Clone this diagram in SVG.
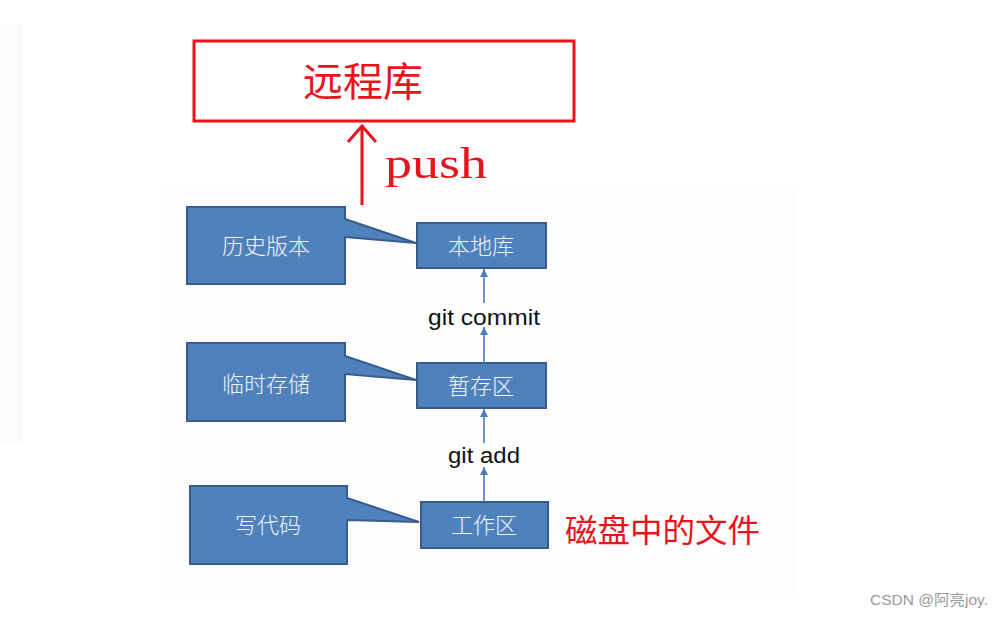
<svg xmlns="http://www.w3.org/2000/svg" width="1002" height="617" viewBox="0 0 1002 617">
<style>
.callout{fill:#4f81bd;stroke:#385d8a;stroke-width:2}
.box{fill:#4f81bd;stroke:#385d8a;stroke-width:2}
.wt{fill:#f4f4f4;font-family:"Noto Sans CJK SC",sans-serif;font-size:22px;font-weight:300;text-anchor:middle}
.red{fill:#e8141c;font-family:"Liberation Serif","Noto Sans CJK SC",serif}
.lbl{fill:#111;font-family:"Liberation Sans",Arial,sans-serif;font-size:22px;text-anchor:middle}
.conn{stroke:#4a7ebb;stroke-width:1.6;fill:none}
</style>
<defs>
<marker id="ah" viewBox="0 0 10 10" refX="10" refY="5" markerWidth="8" markerHeight="8" markerUnits="userSpaceOnUse" orient="auto">
<path d="M0,0 L10,5 L0,10 Z" fill="#4a7ebb"/>
</marker>
</defs>
<rect width="1002" height="617" fill="#ffffff"/>
<rect x="0" y="25" width="22" height="420" fill="#fbfbfb"/>
<rect x="160" y="185" width="635" height="410" fill="#fdfdfd"/>

<g id="remote">
<rect x="194" y="41" width="380" height="80" fill="#ffffff" stroke="#e8141c" stroke-width="3"/>
<text class="red" x="363" y="96" font-size="40" text-anchor="middle">远程库</text>
</g>

<g id="push">
<path d="M362,205 V127 M348,142 L362,126 L376,142" stroke="#e8141c" stroke-width="3" fill="none"/>
<text class="red" x="385" y="178" font-size="44" textLength="102" lengthAdjust="spacingAndGlyphs">push</text>
</g>

<g id="callout-history">
<path class="callout" d="M187,207 H345 V219 L416,243 L345,237 V284 H187 Z"/>
<text class="wt" x="266" y="254">历史版本</text>
</g>
<g id="local-repo">
<rect class="box" x="417" y="223" width="129" height="45"/>
<text class="wt" x="481" y="254">本地库</text>
</g>

<g id="callout-temp">
<path class="callout" d="M187,343 H345 V356 L416,380 L345,374 V421 H187 Z"/>
<text class="wt" x="266" y="392">临时存储</text>
</g>
<g id="staging">
<rect class="box" x="417" y="363" width="129" height="45"/>
<text class="wt" x="481" y="394">暂存区</text>
</g>

<g id="callout-code">
<path class="callout" d="M190,486 H347 V498 L419,522 L347,520 V564 H190 Z"/>
<text class="wt" x="268" y="533">写代码</text>
</g>
<g id="workspace">
<rect class="box" x="421" y="502" width="127" height="46"/>
<text class="wt" x="484" y="533">工作区</text>
</g>

<g id="disk-label">
<text class="red" x="565" y="542" font-size="32" textLength="195" lengthAdjust="spacingAndGlyphs">磁盘中的文件</text>
</g>

<g id="connectors">
<line class="conn" x1="484" y1="303" x2="484" y2="269" marker-end="url(#ah)"/>
<line class="conn" x1="484" y1="363" x2="484" y2="327" marker-end="url(#ah)"/>
<line class="conn" x1="484" y1="443" x2="484" y2="409" marker-end="url(#ah)"/>
<line class="conn" x1="484" y1="502" x2="484" y2="467" marker-end="url(#ah)"/>
<text class="lbl" x="484" y="325" textLength="112" lengthAdjust="spacingAndGlyphs">git commit</text>
<text class="lbl" x="484" y="463" textLength="72" lengthAdjust="spacingAndGlyphs">git add</text>
</g>

<g id="watermark">
<text x="988" y="605" text-anchor="end" fill="#999999" font-family="'Liberation Sans','Noto Sans CJK SC',sans-serif" font-size="15" textLength="118" lengthAdjust="spacingAndGlyphs">CSDN @阿亮joy.</text>
</g>
</svg>
